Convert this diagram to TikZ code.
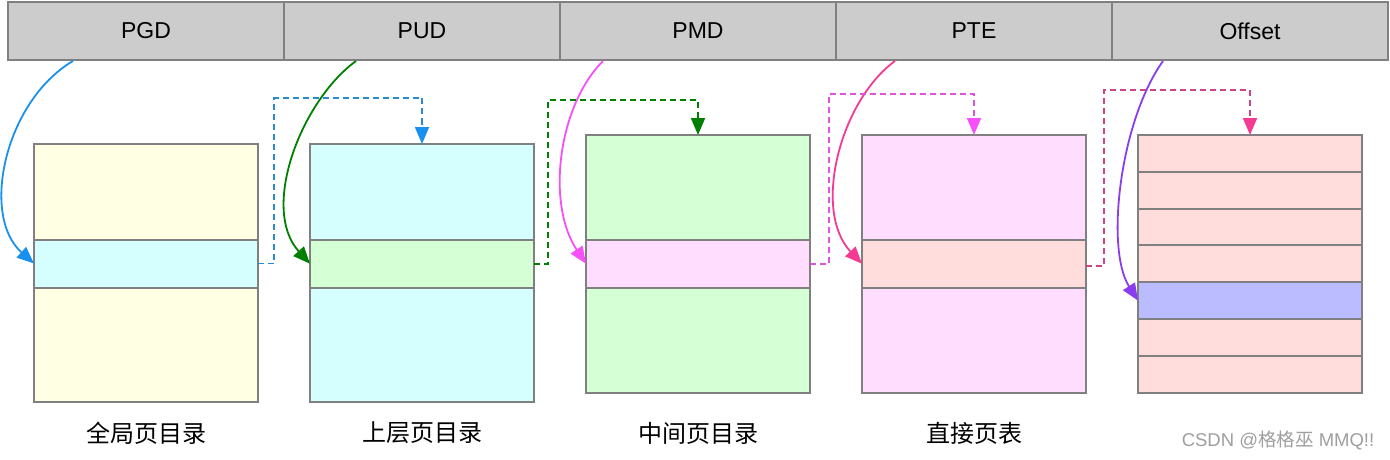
\documentclass[tikz,border=0pt]{standalone}
\usepackage{fontspec}
\setmainfont{Liberation Sans}
\newfontfamily\cjk{Noto Sans CJK SC}
\usetikzlibrary{arrows.meta}

\definecolor{edge}{HTML}{808080}
\definecolor{barfill}{HTML}{CCCCCC}
\definecolor{cyellow}{HTML}{FFFFE3}
\definecolor{ccyan}{HTML}{D5FFFF}
\definecolor{cgreen}{HTML}{D5FFD5}
\definecolor{cpink}{HTML}{FFDDFF}
\definecolor{csalmon}{HTML}{FFDDDD}
\definecolor{clav}{HTML}{BBBBFF}
\definecolor{lblue}{HTML}{1890F0}
\definecolor{dblue}{HTML}{2A8AD0}
\definecolor{lgreen}{HTML}{008000}
\definecolor{lmag}{HTML}{F850F8}
\definecolor{dmag}{HTML}{DD55DD}
\definecolor{lrose}{HTML}{F53A92}
\definecolor{drose}{HTML}{CC4488}
\definecolor{lpurple}{HTML}{8A3CF0}

\tikzset{
  bar/.style={draw=edge, fill=barfill, line width=2pt, minimum width=276pt,
    minimum height=58pt, inner sep=0pt, font=\fontsize{23}{27}\selectfont},
  cell/.style={minimum width=224pt, inner sep=0pt, outer sep=0pt, anchor=north west},
  rim/.style={draw=edge, line width=2pt},
  tip/.style={-{Triangle[length=17pt,width=14pt]}},
  link/.style={tip, line width=1.8pt},
  hop/.style={tip, line width=1.8pt, dash pattern=on 6pt off 4pt},
  lbl/.style={font=\cjk\fontsize{24}{28}\selectfont},
}

\begin{document}
\begin{tikzpicture}[x=1pt, y=-1pt]
\useasboundingbox (0,0) rectangle (1390,460);

% address fields
\node[bar] (pgd) at (146,31) {PGD};
\node[bar] (pud) at (422,31) {PUD};
\node[bar] (pmd) at (698,31) {PMD};
\node[bar] (pte) at (974,31) {PTE};
\node[bar] (off) at (1250,31) {Offset};

% page global directory
\node[cell, fill=cyellow, minimum height=95.5pt] (t1a) at (34,144) {};
\node[cell, fill=ccyan,   minimum height=48pt]   (t1b) at (34,239.5) {};
\node[cell, fill=cyellow, minimum height=114.5pt] (t1c) at (34,287.5) {};

% page upper directory
\node[cell, fill=ccyan,  minimum height=96pt]   (t2a) at (310,144) {};
\node[cell, fill=cgreen, minimum height=47.5pt] (t2b) at (310,240) {};
\node[cell, fill=ccyan,  minimum height=114.5pt] (t2c) at (310,287.5) {};

% page middle directory
\node[cell, fill=cgreen, minimum height=105pt]  (t3a) at (586,135) {};
\node[cell, fill=cpink,  minimum height=47.5pt] (t3b) at (586,240) {};
\node[cell, fill=cgreen, minimum height=105pt]  (t3c) at (586,287.5) {};

% page table
\node[cell, fill=cpink,   minimum height=105pt]  (t4a) at (862,135) {};
\node[cell, fill=csalmon, minimum height=47.5pt] (t4b) at (862,240) {};
\node[cell, fill=cpink,   minimum height=105pt]  (t4c) at (862,287.5) {};

% physical page
\foreach \i/\c in {1/csalmon,2/csalmon,3/csalmon,4/csalmon,5/clav,6/csalmon,7/csalmon}
  \node[cell, fill=\c, minimum height=36.8pt] (p\i) at (1138,{135+(\i-1)*36.8}) {};

% outlines drawn over the fills so shared edges keep full width
\foreach \n in {t1a,t1b,t1c,t2a,t2b,t2c,t3a,t3b,t3c,t4a,t4b,t4c,p1,p2,p3,p4,p5,p6,p7}
  \draw[rim] (\n.north west) rectangle (\n.south east);

% captions
\node[lbl] (c1) at (146,433) {全局页目录};
\node[lbl] (c2) at (422,433) {上层页目录};
\node[lbl] (c3) at (698,433) {中间页目录};
\node[lbl] (c4) at (974,433) {直接页表};
\node[font=\fontsize{18.5}{22}\selectfont, text=black!38] (wm) at (1278,440)
  {CSDN @{\cjk 格格巫} MMQ!!};

% index fields select an entry
\draw[link, lblue] ([xshift=-73pt]pgd.south)
  .. controls +(-68,40) and +(-54,-48) .. (t1b.west);
\draw[link, lgreen] ([xshift=-66pt]pud.south)
  .. controls +(-55,40) and +(-50,-55) .. (t2b.west);
\draw[link, lmag] ([xshift=-95pt]pmd.south)
  .. controls +(-45,45) and +(-40,-60) .. (t3b.west);
\draw[link, lrose] ([xshift=-79pt]pte.south)
  .. controls +(-55,40) and +(-50,-53) .. (t4b.west);
\draw[link, lpurple] ([xshift=-87pt]off.south)
  .. controls +(-43,60) and +(-33,-52) .. (p5.west);

% each entry points to the next level
\draw[hop, dblue, -{Triangle[length=17pt,width=14pt,color=lblue]}]
  (t1b.east) -- ++(16,0) |- ([yshift=46pt]t2a.north) -- (t2a.north);
\draw[hop, lgreen]
  (t2b.east) -- ++(14,0) |- ([yshift=35pt]t3a.north) -- (t3a.north);
\draw[hop, dmag, -{Triangle[length=17pt,width=14pt,color=lmag]}]
  (t3b.east) -- ++(19,0) |- ([yshift=41pt]t4a.north) -- (t4a.north);
\draw[hop, drose, -{Triangle[length=17pt,width=14pt,color=lrose]}]
  ([yshift=-2pt]t4b.east) -- ++(18,0) |- ([yshift=45pt]p1.north) -- (p1.north);
\end{tikzpicture}
\end{document}
